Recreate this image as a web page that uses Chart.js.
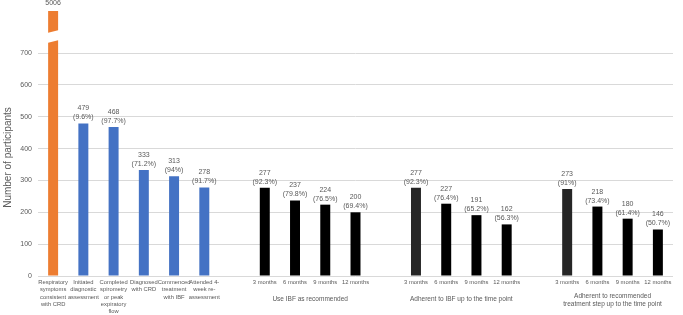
<!DOCTYPE html>
<html>
<head>
<meta charset="utf-8">
<script src="https://cdn.jsdelivr.net/npm/chart.js@4.4.1/dist/chart.umd.min.js"></script>
<style>
  html, body { margin: 0; padding: 0; background: #fff; }
  #wrap { width: 683px; height: 315px; }
</style>
</head>
<body>
<div id="wrap"><canvas id="chart"></canvas></div>
<script>
// categories (multi-line tick labels), empty strings are spacer slots
const categories = [
    ['Respiratory', 'symptoms', 'consistent', 'with CRD'],
    ['Initiated', 'diagnostic', 'assessment'],
    ['Completed', 'spirometry', 'or peak', 'expiratory', 'flow'],
    ['Diagnosed', 'with CRD'],
    ['Commenced', 'treatment', 'with IBF'],
    ['Attended 4-', 'week re-', 'assessment'],
    '',
    '3 months', '6 months', '9 months', '12 months',
    '',
    '3 months', '6 months', '9 months', '12 months',
    '',
    '3 months', '6 months', '9 months', '12 months'
]
const participants = [5006, 479, 468, 333, 313, 278, null, 277, 237, 224, 200, null, 277, 227, 191, 162, null, 273, 218, 180, 146]
const percentages = [null, '9.6%', '97.7%', '71.2%', '94%', '91.7%', null, '92.3%', '79.8%', '76.5%', '69.4%', null, '92.3%', '76.4%', '65.2%', '56.3%', null, '91%', '73.4%', '61.4%', '50.7%']
const yTicks = [0, 100, 200, 300, 400, 500, 600, 700]
const yTitle = 'Number of participants'
const groupLabels = [
    {text: ['Use IBF as recommended'], from: 7, to: 10},
    {text: ['Adherent to IBF up to the time point'], from: 12, to: 15},
    {text: ['Adherent to recommended', 'treatment step up to the time point'], from: 17, to: 20}
]

const barColors = participants.map((v, i) => {
    if (i === 0) return '#ED7D31'
    if (i <= 5) return '#4472C4'
    if (i === 12 || i === 17) return '#262626'
    return '#000000'
})

const FONT = "'Liberation Sans', Arial, sans-serif"
const TEXT = '#595959'

// value + percentage labels above bars
const barLabels = {
    id: 'barLabels',
    afterDatasetsDraw(chart) {
        const ctx = chart.ctx
        const meta = chart.getDatasetMeta(0)
        const top = chart.chartArea.top
        ctx.save()
        ctx.font = `7px ${FONT}`
        ctx.fillStyle = TEXT
        ctx.textAlign = 'center'
        ctx.textBaseline = 'middle'
        meta.data.forEach((bar, i) => {
            if (participants[i] == null) return
            const y = Math.max(bar.y, top)
            if (percentages[i]) {
                ctx.fillText(String(participants[i]), bar.x, y - 15)
                ctx.fillText(`(${percentages[i]})`, bar.x, y - 6)
            } else {
                ctx.fillText(String(participants[i]), bar.x, y - 8)
            }
        })
        ctx.restore()
    }
}

// axis break across the truncated first bar
const axisBreak = {
    id: 'axisBreak',
    afterDatasetsDraw(chart) {
        const ctx = chart.ctx
        const bar = chart.getDatasetMeta(0).data[0]
        const yMid = chart.scales.y.getPixelForValue(750)
        const l = bar.x - bar.width / 2 - 1
        const r = bar.x + bar.width / 2 + 1
        ctx.save()
        ctx.fillStyle = '#ffffff'
        ctx.beginPath()
        ctx.moveTo(l, yMid - 4)
        ctx.lineTo(r, yMid - 7)
        ctx.lineTo(r, yMid + 3)
        ctx.lineTo(l, yMid + 6)
        ctx.closePath()
        ctx.fill()
        ctx.restore()
    }
}

// group captions under the month ticks, plus the y title centred on the canvas
const captions = {
    id: 'captions',
    afterDraw(chart) {
        const ctx = chart.ctx
        const x = chart.scales.x
        ctx.save()
        ctx.font = `6.5px ${FONT}`
        ctx.fillStyle = TEXT
        ctx.textAlign = 'center'
        ctx.textBaseline = 'middle'
        groupLabels.forEach(g => {
            const cx = (x.getPixelForValue(g.from) + x.getPixelForValue(g.to)) / 2
            const y0 = g.text.length > 1 ? 296 : 299
            g.text.forEach((line, k) => ctx.fillText(line, cx, y0 + k * 8))
        })
        ctx.translate(8, chart.height / 2)
        ctx.rotate(-Math.PI / 2)
        ctx.font = `10px ${FONT}`
        ctx.fillText(yTitle, 0, 0)
        ctx.restore()
    }
}

new Chart(document.getElementById('chart'), {
    type: 'bar',
    data: {
        labels: categories,
        datasets: [{
            data: participants,
            backgroundColor: barColors,
            borderWidth: 0,
            categoryPercentage: 1,
            barPercentage: 0.33
        }]
    },
    options: {
        responsive: true,
        maintainAspectRatio: false,
        animation: false,
        layout: {padding: {top: 11, right: 10, left: 0, bottom: 0}},
        plugins: {
            legend: {display: false},
            tooltip: {enabled: false}
        },
        scales: {
            x: {
                grid: {display: false, drawTicks: false},
                border: {display: false},
                afterFit: (axis) => { axis.height = 39 },
                ticks: {
                    autoSkip: false,
                    maxRotation: 0,
                    minRotation: 0,
                    padding: 3,
                    color: TEXT,
                    font: {family: FONT, size: 5.8, lineHeight: '7.2px'}
                }
            },
            y: {
                min: 0,
                max: 832,
                afterBuildTicks: (axis) => {
                    axis.ticks = yTicks.map(v => ({value: v}))
                },
                afterFit: (axis) => { axis.width = 38 },
                border: {display: false},
                grid: {color: '#d9d9d9', lineWidth: 1, drawTicks: false},
                ticks: {
                    padding: 6,
                    color: TEXT,
                    font: {family: FONT, size: 7}
                }
            }
        }
    },
    plugins: [barLabels, axisBreak, captions]
})
</script>
</body>
</html>
